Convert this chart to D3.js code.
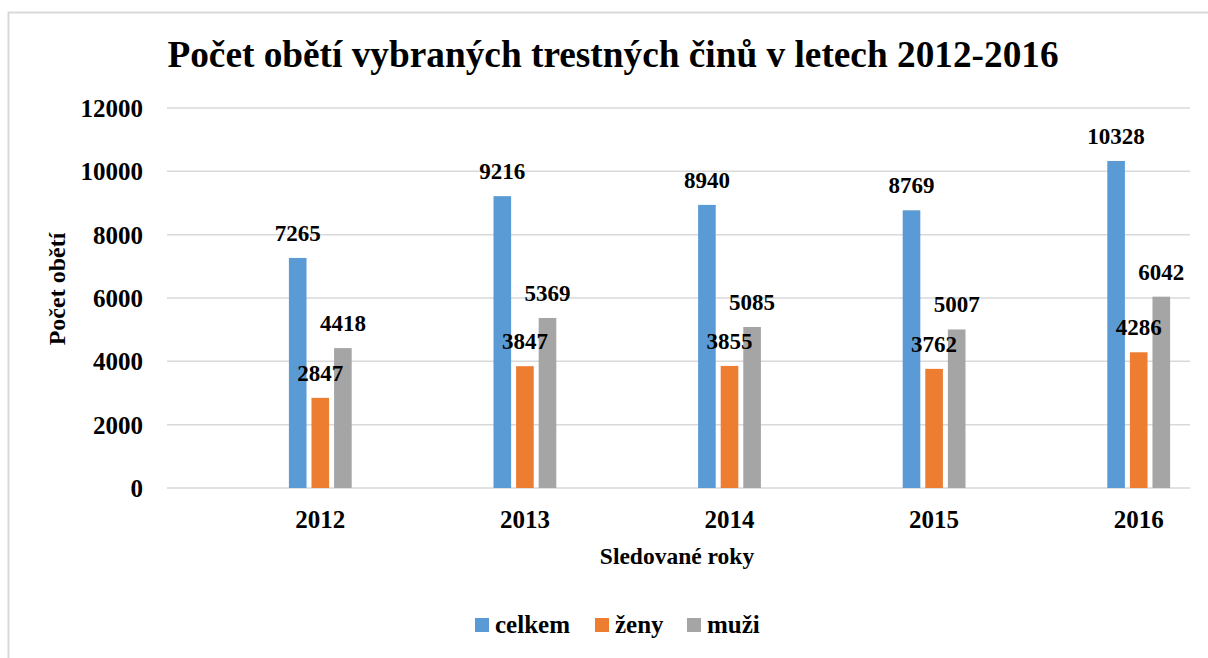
<!DOCTYPE html>
<html>
<head>
<meta charset="utf-8">
<script src="https://cdn.jsdelivr.net/npm/d3@7"></script>
<style>
  body { margin: 0; background: #fff; }
  svg text { font-family: "Liberation Serif", "Times New Roman", serif; font-weight: bold; fill: #000; }
</style>
</head>
<body>
<div id="chart"></div>
<script>
// data
const years = ["2012", "2013", "2014", "2015", "2016"];
const seriesNames = ["celkem", "ženy", "muži"];
const celkem = [7265, 9216, 8940, 8769, 10328];
const zeny = [2847, 3847, 3855, 3762, 4286];
const muzi = [4418, 5369, 5085, 5007, 6042];
const yTicks = [0, 2000, 4000, 6000, 8000, 10000, 12000];
const colors = ["#5B9BD5", "#ED7D31", "#A5A5A5"];

const values = [celkem, zeny, muzi];
const W = 1208, H = 658;

const svg = d3.select("#chart").append("svg")
  .attr("width", W).attr("height", H);

// outer frame (runs off the right/bottom edge like the screenshot)
svg.append("rect")
  .attr("x", 8.5).attr("y", 12.5)
  .attr("width", 1400).attr("height", 800)
  .attr("fill", "none").attr("stroke", "#d9d9d9").attr("stroke-width", 2);

// plot area
const gridLeft = 167, gridRight = 1190;
const y = d3.scaleLinear().domain([0, 12000]).range([488, 108]);

// categories, shifted right like the original render
const x0 = d3.scaleBand().domain(years).range([218, 1241]);
const x1 = d3.scaleBand().domain(seriesNames).range([-31.4, 31.4]).paddingInner(0.22);

// grid lines
svg.append("g").selectAll("line")
  .data(yTicks)
  .join("line")
  .attr("x1", gridLeft).attr("x2", gridRight)
  .attr("y1", d => y(d)).attr("y2", d => y(d))
  .attr("stroke", "#d9d9d9").attr("stroke-width", 1.5);

// y axis labels
const yAxis = svg.append("g")
  .attr("transform", `translate(${gridLeft - 24},0)`)
  .call(d3.axisLeft(y).tickValues(yTicks).tickSize(0).tickPadding(0).tickFormat(d3.format("d")));
yAxis.select(".domain").remove();
yAxis.selectAll("text")
  .style("font-size", "25px")
  .style("font-family", "Liberation Serif")
  .attr("dy", "0.34em");

// bars
const groups = svg.append("g").selectAll("g")
  .data(years)
  .join("g")
  .attr("transform", d => `translate(${x0(d) + x0.bandwidth() / 2},0)`);

seriesNames.forEach((s, si) => {
  groups.append("rect")
    .attr("x", x1(s))
    .attr("width", x1.bandwidth())
    .attr("y", (d, i) => y(values[si][i]))
    .attr("height", (d, i) => y(0) - y(values[si][i]))
    .attr("fill", colors[si]);
});

// data labels
seriesNames.forEach((s, si) => {
  groups.append("text")
    .attr("x", x1(s) + x1.bandwidth() / 2)
    .attr("y", (d, i) => y(values[si][i]) - 17)
    .attr("text-anchor", "middle")
    .style("font-size", "23px")
    .text((d, i) => values[si][i]);
});

// x axis labels
const xAxis = svg.append("g")
  .attr("transform", "translate(0,510)")
  .call(d3.axisBottom(x0).tickSize(0).tickPadding(0));
xAxis.select(".domain").remove();
xAxis.selectAll("text")
  .style("font-size", "25px")
  .style("font-family", "Liberation Serif")
  .attr("dy", "0.71em");

// titles
svg.append("text")
  .attr("x", 613).attr("y", 67)
  .attr("text-anchor", "middle")
  .style("font-size", "37.3px")
  .text("Počet obětí vybraných trestných činů v letech 2012-2016");

svg.append("text")
  .attr("x", 677).attr("y", 564)
  .attr("text-anchor", "middle")
  .style("font-size", "23.5px")
  .text("Sledované roky");

svg.append("text")
  .attr("transform", "translate(65,289)rotate(-90)")
  .attr("text-anchor", "middle")
  .style("font-size", "24px")
  .text("Počet obětí");

// legend
const legendX = [475, 595, 687];
const legend = svg.append("g").selectAll("g")
  .data(seriesNames)
  .join("g")
  .attr("transform", (d, i) => `translate(${legendX[i]},618)`);
legend.append("rect")
  .attr("width", 14).attr("height", 14)
  .attr("fill", (d, i) => colors[i]);
legend.append("text")
  .attr("x", 20).attr("y", 15)
  .style("font-size", "25px")
  .text(d => d);
</script>
</body>
</html>
